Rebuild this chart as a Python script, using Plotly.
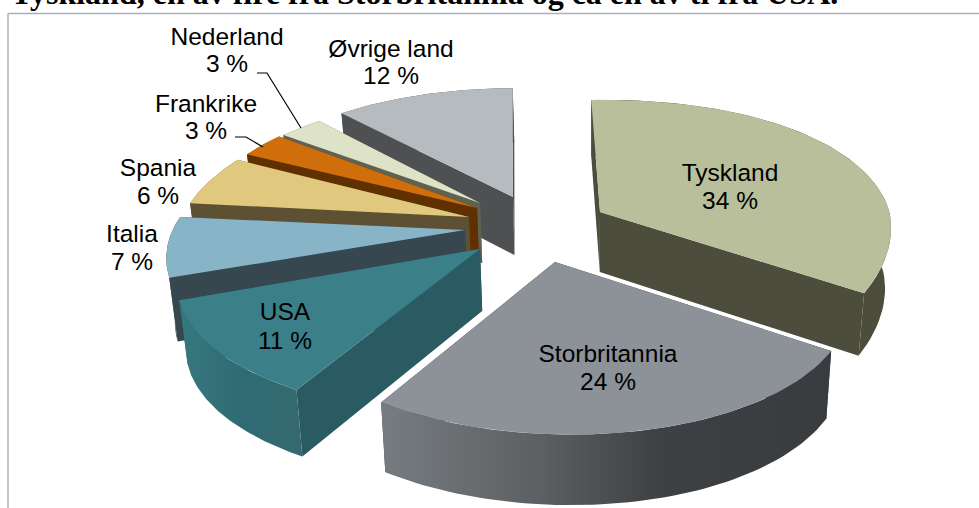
import math
import plotly.graph_objects as go

# ---- data ----
COUNTRIES = ["Tyskland", "Storbritannia", "USA", "Italia", "Spania", "Frankrike", "Nederland", "Øvrige land"]
SHARES = [34, 24, 11, 7, 6, 3, 3, 12]
TITLE = "Tyskland, en av fire fra Storbritannia og ca en av ti fra USA."

# ---- styling / geometry of the 3-D pie ----
TOP_COLORS = ["#B9BF9B", "#8D9299", "#3B7F89", "#87B4C6", "#E0C97F", "#D06E0C", "#DEE2C6", "#B6BBBF"]
WALL_COLORS = ["#4C4D3C", "#393C3F", "#2A5A62", "#36474F", "#5E5033", "#603000", "#5F6152", "#4E5052"]
OUTER_SCALES = {
    0: [[0, "#4C4D3C"], [1, "#4C4D3C"]],
    1: [[0, "#777C80"], [0.35, "#5C6063"], [0.62, "#3E4144"], [1, "#393C3F"]],
    2: [[0, "#37787F"], [0.5, "#2F6B73"], [1, "#35696F"]],
}
CX, CY = 510, 225
OFFSET_X = [90, 45, -30, -45, -41, -33, -30, 3]
OFFSET_Y = [-13, 37, 24, 5, -8, -17, -22, -28]
RADIUS_X = [288, 285, 291, 290, 284, 282, 280, 294]
RADIUS_Y = [139, 131, 127, 130, 135, 139, 132, 135]
TILT_Y = [-5, 10, 0, 5, 5.5, 0, 0, 0]
PERSP_X = [0.6, 1, 1.14, 1, 1, 1, 1, 1]
HEIGHT = [60, 65, 62, 62, 60, 60, 60, 58]
KP = 0.24
SHEAR = 0.5
SHRINK = 0.98
VANISH_X = 590
DRAW_ORDER = [7, 6, 5, 4, 3, 0, 2, 1]
LABEL_X = [730, 608, 285, 132, 158, 206, 227, 391]
NAME_Y = [174.5, 355.5, 314, 235.5, 169.5, 105.5, 39, 50.5]
PCT_Y = [202.5, 383.5, 342.5, 263.5, 197.5, 132.5, 65.5, 77.5]
LINE_X = [[257, 267, 301], [235, 246, 263]]
LINE_Y = [[73, 73, 128], [137, 137, 147]]


def project(i, t):
    X, Y = math.sin(t), -math.cos(t)
    p = 1 / (1 - KP * Y)
    return (CX + OFFSET_X[i] + RADIUS_X[i] * X * p ** PERSP_X[i] + SHEAR * OFFSET_X[i] * (min(p, 1) - 1),
            CY + OFFSET_Y[i] + RADIUS_Y[i] * Y * p + TILT_Y[i] * X)


def lower(i, t, pt):
    Y = -math.cos(t) if t is not None else 0
    p = 1 / (1 - KP * Y)
    return (VANISH_X + SHRINK * (pt[0] - VANISH_X), pt[1] + HEIGHT[i] * p ** 0.3)


def add_poly(fig, pts, color=None, scale=None):
    kw = dict(fillcolor=color) if scale is None else dict(fillgradient=dict(type="horizontal", colorscale=scale))
    xs = [p[0] for p in pts] + [pts[0][0]]
    ys = [p[1] for p in pts] + [pts[0][1]]
    fig.add_trace(go.Scatter(x=xs, y=ys, mode="lines", fill="toself", line=dict(width=0),
                             hoverinfo="skip", showlegend=False, **kw))


fig = go.Figure()
total = sum(SHARES)
starts, acc = [], 0
for s in SHARES:
    starts.append(acc)
    acc += s

for i in DRAW_ORDER:
    t0 = 2 * math.pi * starts[i] / total
    t1 = 2 * math.pi * (starts[i] + SHARES[i]) / total
    n = 60
    ts = [t0 + (t1 - t0) * j / n for j in range(n + 1)]
    arc = [project(i, t) for t in ts]
    apex = (CX + OFFSET_X[i], CY + OFFSET_Y[i])
    low = [lower(i, t, p) for t, p in zip(ts, arc)]
    # inner walls
    for edge, edge_low in ((arc[-1], low[-1]), (arc[0], low[0])):
        add_poly(fig, [apex, edge, edge_low, lower(i, None, apex)], color=WALL_COLORS[i])
    # outer wall
    wall = arc + low[::-1]
    if i in OUTER_SCALES:
        add_poly(fig, wall, scale=OUTER_SCALES[i])
    else:
        add_poly(fig, wall, color=WALL_COLORS[i])
    # top face
    add_poly(fig, [apex] + arc, color=TOP_COLORS[i])

# leader lines
for lx, ly in zip(LINE_X, LINE_Y):
    fig.add_trace(go.Scatter(x=lx, y=ly, mode="lines", line=dict(color="#000000", width=1.2),
                             hoverinfo="skip", showlegend=False))

# labels
LABEL_FONT = dict(family="Liberation Sans", size=24.5, color="#000000")
fig.add_trace(go.Scatter(x=LABEL_X, y=NAME_Y, mode="text", text=COUNTRIES, textposition="middle center",
                         textfont=LABEL_FONT, hoverinfo="skip", showlegend=False))
fig.add_trace(go.Scatter(x=LABEL_X, y=PCT_Y, mode="text", text=[f"{s} %" for s in SHARES],
                         textposition="middle center", textfont=LABEL_FONT, hoverinfo="skip", showlegend=False))

# title (cut off by the top of the page)
fig.add_annotation(x=10, y=12, xref="x", yref="y", text=f"<b>{TITLE}</b>", showarrow=False,
                   xanchor="left", yanchor="bottom", borderpad=0,
                   font=dict(family="Liberation Serif", size=32, color="#000000"))

# chart frame
FRAME = "#A9B0BC"
fig.add_shape(type="line", x0=8, x1=979, y0=13.5, y1=13.5, line=dict(color=FRAME, width=1.5))
fig.add_shape(type="line", x0=8, x1=8, y0=13.5, y1=508, line=dict(color=FRAME, width=1.5))

fig.update_layout(
    width=979, height=508, margin=dict(l=0, r=0, t=0, b=0),
    paper_bgcolor="#FFFFFF", plot_bgcolor="#FFFFFF", showlegend=False,
    xaxis=dict(range=[0, 979], visible=False, fixedrange=True),
    yaxis=dict(range=[508, 0], visible=False, fixedrange=True),
)
fig.write_html("out.html", config={"displayModeBar": False},
               post_script="document.body.style.margin='0';document.documentElement.style.overflow='hidden';")
